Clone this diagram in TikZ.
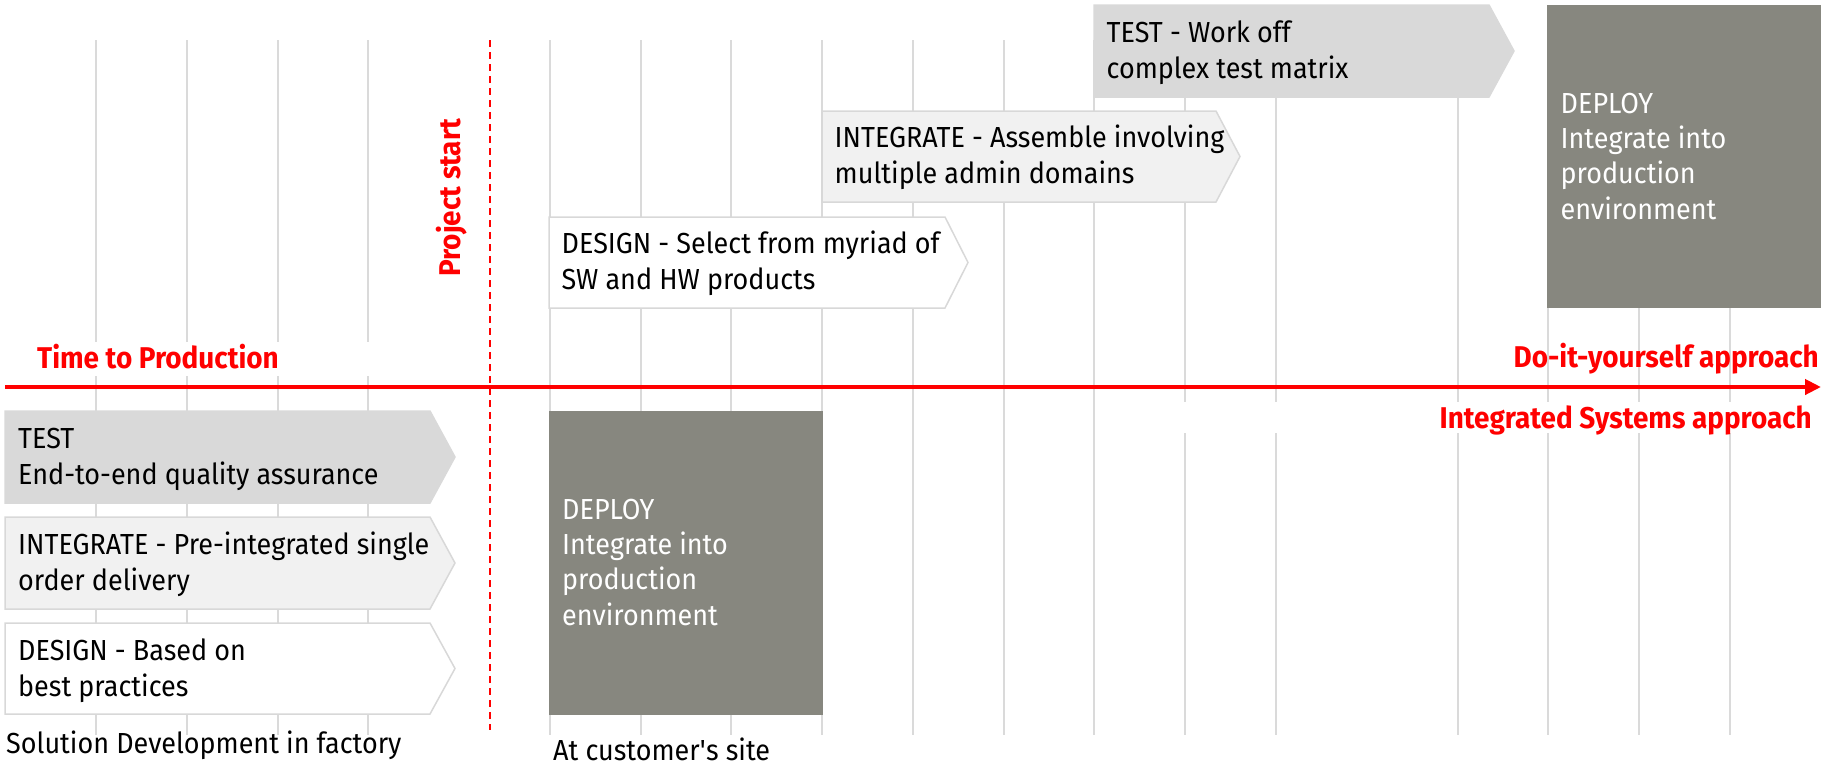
\documentclass[tikz,border=0pt]{standalone}
\usepackage{fontspec}
\setmainfont{Fira Sans}[FakeStretch=0.93]
\usetikzlibrary{arrows.meta}
\definecolor{gridgray}{RGB}{218,218,218}
\definecolor{boxborder}{RGB}{216,216,216}
\definecolor{testfill}{RGB}{217,217,217}
\definecolor{intfill}{RGB}{241,241,241}
\definecolor{deploygray}{RGB}{135,135,127}
\definecolor{axisred}{RGB}{255,0,0}
\begin{document}
\begin{tikzpicture}[x=1pt,y=-1pt,
  gridline/.style={draw=gridgray,line width=2pt},
  testbox/.style={fill=testfill,draw=testfill,line width=1.5pt},
  intbox/.style={fill=intfill,draw=boxborder,line width=1.5pt},
  desbox/.style={fill=white,draw=boxborder,line width=1.5pt},
  depbox/.style={fill=deploygray},
  boxtext/.style={anchor=base west,inner sep=0pt,align=left,font=\fontsize{29}{35.3}\selectfont,text=black},
  deptext/.style={boxtext,text=white},
  redlabel/.style={inner sep=0pt,font=\fontsize{30}{36}\selectfont\bfseries,text=axisred},
  caption/.style={anchor=base west,inner sep=0pt,font=\fontsize{29}{35.3}\selectfont,text=black}
]
\useasboundingbox (0,0) rectangle (1833,764);
% grid lines
\foreach \k in {0,...,3} {
  \draw[gridline] ({96+90.77*\k},40) -- ({96+90.77*\k},342);
  \draw[gridline] ({96+90.77*\k},376) -- ({96+90.77*\k},735);
}
\foreach \k in {5,...,11} \draw[gridline] ({96+90.77*\k},40) -- ({96+90.77*\k},735);
\foreach \k in {12,13,15,16,17,18} {
  \draw[gridline] ({96+90.77*\k},40) -- ({96+90.77*\k},402);
  \draw[gridline] ({96+90.77*\k},433) -- ({96+90.77*\k},735);
}
% top row boxes
\path[desbox] (549,217) -- (945,217) -- (968,262.5) -- (945,308) -- (549,308) -- cycle;
\path[intbox] (822,111) -- (1216,111) -- (1240,156.5) -- (1216,202) -- (822,202) -- cycle;
\path[testbox] (1094,5) -- (1489,5) -- (1514,51) -- (1489,97) -- (1094,97) -- cycle;
\path[depbox] (1547,5) rectangle (1821,308);
% bottom row boxes
\path[testbox] (5,411) -- (430,411) -- (455,457) -- (430,503) -- (5,503) -- cycle;
\path[intbox] (5,517) -- (430,517) -- (455,563) -- (430,609) -- (5,609) -- cycle;
\path[desbox] (5,623) -- (430,623) -- (455,668.5) -- (430,714) -- (5,714) -- cycle;
\path[depbox] (549,411) rectangle (823,715);
% texts (anchor = baseline of the last line)
\node[boxtext] (dtop) at (561.5,289) {DESIGN - Select from myriad of\\SW and HW products};
\node[boxtext] (itop) at (834.5,183) {INTEGRATE - Assemble involving\\multiple admin domains};
\node[boxtext] (ttop) at (1106.5,78) {TEST - Work off\\complex test matrix};
\node[deptext] (deptop) at (1560.5,219) {DEPLOY\\Integrate into\\production\\environment};
\node[boxtext] (tbot) at (18,484) {TEST\\End-to-end quality assurance};
\node[boxtext] (ibot) at (18,590) {INTEGRATE - Pre-integrated single\\order delivery};
\node[boxtext] (dbot) at (18,696) {DESIGN - Based on\\best practices};
\node[deptext] (depbot) at (562,625) {DEPLOY\\Integrate into\\production\\environment};
\node[caption] (factory) at (6,753) {Solution Development in factory};
\node[caption] (site) at (553,760) {At customer\textquotesingle s site};
% axis and project start
\coordinate (axstart) at (5,387);
\coordinate (axend) at (1821,387);
\draw[axisred,line width=4pt,-{Triangle[length=16pt,width=15pt]}] (axstart) -- (axend);
\coordinate (pstop) at (490,40);
\coordinate (psbot) at (490,730);
\draw[axisred,line width=2pt,dash pattern=on 7pt off 5pt] (pstop) -- (psbot);
\node[redlabel,anchor=base west] (ttp) at (37,368) {Time to Production};
\node[redlabel,anchor=base west,rotate=90] (ps) at (460.5,277) {Project start};
\node[redlabel,anchor=base east] (diy) at (1819,367) {Do-it-yourself approach};
\node[redlabel,anchor=base east] (isa) at (1812,428) {Integrated Systems approach};
\end{tikzpicture}
\end{document}
